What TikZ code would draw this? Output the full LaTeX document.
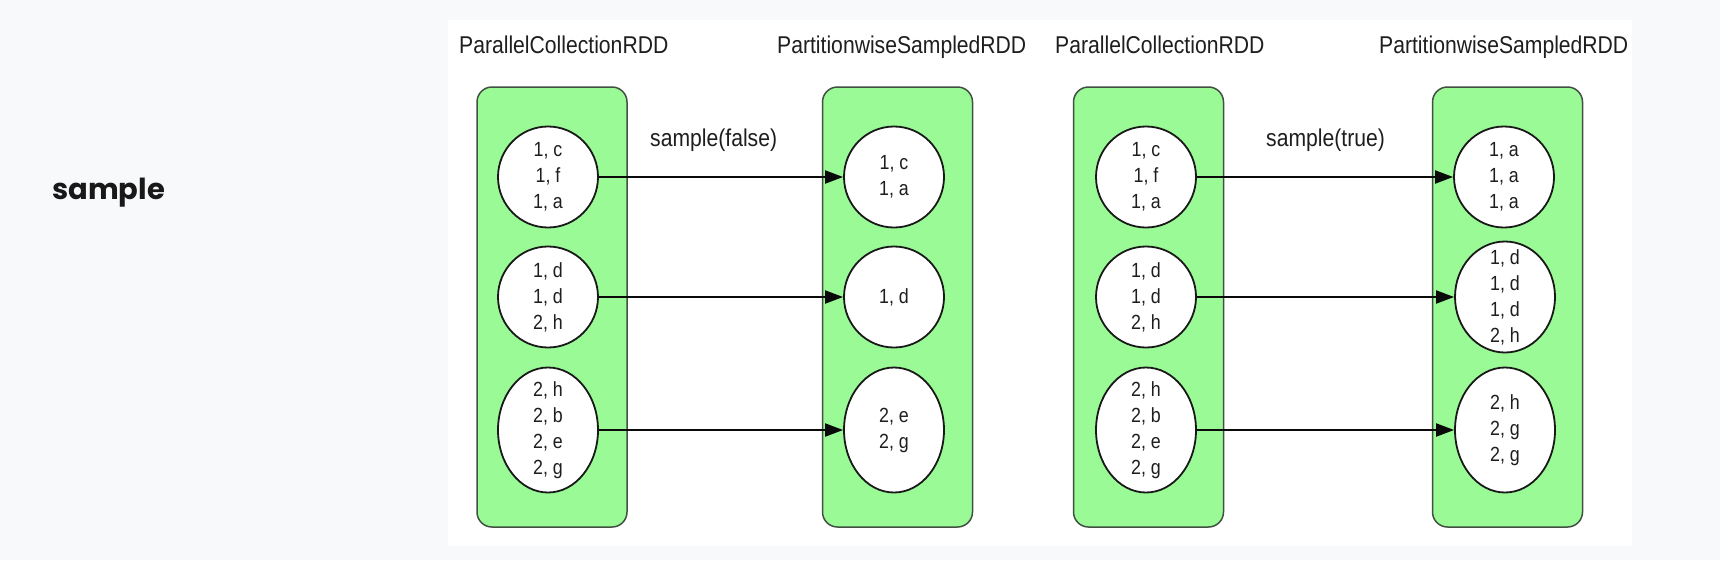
\documentclass[tikz,border=0pt]{standalone}
\usepackage{fontspec}
\usetikzlibrary{shapes.geometric,arrows.meta}
\newfontfamily\narrowfont{Liberation Sans}[FakeStretch=0.87]
\newfontfamily\handfont{Poppins}
\definecolor{bgc}{RGB}{248,249,251}
\definecolor{rddgreen}{RGB}{153,250,150}
\definecolor{boxline}{RGB}{65,80,65}
\definecolor{circline}{RGB}{25,25,25}
\definecolor{txt}{RGB}{30,30,30}
\definecolor{arrowc}{RGB}{10,10,10}
\begin{document}
\begin{tikzpicture}[x=1pt,y=-1pt,
  rdd/.style={draw=boxline, fill=rddgreen, line width=1.5pt, rounded corners=15pt,
              minimum width=150pt, minimum height=440pt, inner sep=0pt},
  part/.style={ellipse, draw=circline, fill=white, line width=1.8pt,
               minimum width=100pt, inner sep=0pt},
  items/.style={font=\narrowfont\fontsize{20.5}{26}\selectfont, text=txt, align=center, inner sep=0pt},
  title/.style={font=\narrowfont\fontsize{24.3}{28}\selectfont, text=txt, anchor=base west, inner sep=0pt},
  oplabel/.style={font=\narrowfont\fontsize{24.3}{28}\selectfont, text=txt, anchor=base west, inner sep=0pt},
  flow/.style={draw=arrowc, line width=2pt, -{Triangle[length=18pt,width=13pt]}}]
\fill[bgc] (0,0) rectangle (1720,560);
\fill[white] (448,20) rectangle (1632,546);
\useasboundingbox (0,0) rectangle (1720,560);

\node[anchor=base west, inner sep=0pt, text=black!90,
      font=\handfont\bfseries\fontsize{29}{32}\selectfont] (op) at (52,199) {sample};

% titles
\node[title] (t1) at (459,53) {ParallelCollectionRDD};
\node[title] (t2) at (777,53) {PartitionwiseSampledRDD};
\node[title] (t3) at (1055,53) {ParallelCollectionRDD};
\node[title] (t4) at (1379,53) {PartitionwiseSampledRDD};

% RDD boxes
\node[rdd] (b1) at (552,307) {};
\node[rdd] (b2) at (897.5,307) {};
\node[rdd] (b3) at (1148.5,307) {};
\node[rdd] (b4) at (1507.5,307) {};

% panel 1 partitions
\node[part, minimum height=101pt] (l1) at (548,177) {};
\node[part, minimum height=101pt] (l2) at (548,297) {};
\node[part, minimum height=125pt] (l3) at (548,430) {};
\node[part, minimum height=101pt] (r1) at (894,177) {};
\node[part, minimum height=101pt] (r2) at (894,297) {};
\node[part, minimum height=125pt] (r3) at (894,430) {};
\node[items] (tl1) at (l1) {1, c\\1, f\\1, a};
\node[items] (tl2) at (l2) {1, d\\1, d\\2, h};
\node[items] (tl3) at (l3) {2, h\\2, b\\2, e\\2, g};
\node[items] (tr1) at (r1) {1, c\\1, a};
\node[items] (tr2) at (r2) {1, d};
\node[items] (tr3) at (r3) {2, e\\2, g};

% panel 2 partitions
\node[part, minimum height=101pt] (L1) at (1146,177) {};
\node[part, minimum height=101pt] (L2) at (1146,297) {};
\node[part, minimum height=125pt] (L3) at (1146,430) {};
\node[part, minimum height=101pt] (R1) at (1504,177) {};
\node[part, minimum height=111pt] (R2) at (1505,297) {};
\node[part, minimum height=125pt] (R3) at (1505,430) {};
\node[items] (tL1) at (L1) {1, c\\1, f\\1, a};
\node[items] (tL2) at (L2) {1, d\\1, d\\2, h};
\node[items] (tL3) at (L3) {2, h\\2, b\\2, e\\2, g};
\node[items] (tR1) at (R1) {1, a\\1, a\\1, a};
\node[items] (tR2) at (R2) {1, d\\1, d\\1, d\\2, h};
\node[items] (tR3) at (R3) {2, h\\2, g\\2, g};

% operation labels
\node[oplabel] (s1) at (650,146) {sample(false)};
\node[oplabel] (s2) at (1266,146) {sample(true)};

% connectors
\draw[flow] (l1) -- (r1);
\draw[flow] (l2) -- (r2);
\draw[flow] (l3) -- (r3);
\draw[flow] (L1) -- (R1);
\draw[flow] (L2) -- (R2);
\draw[flow] (L3) -- (R3);
\end{tikzpicture}
\end{document}
